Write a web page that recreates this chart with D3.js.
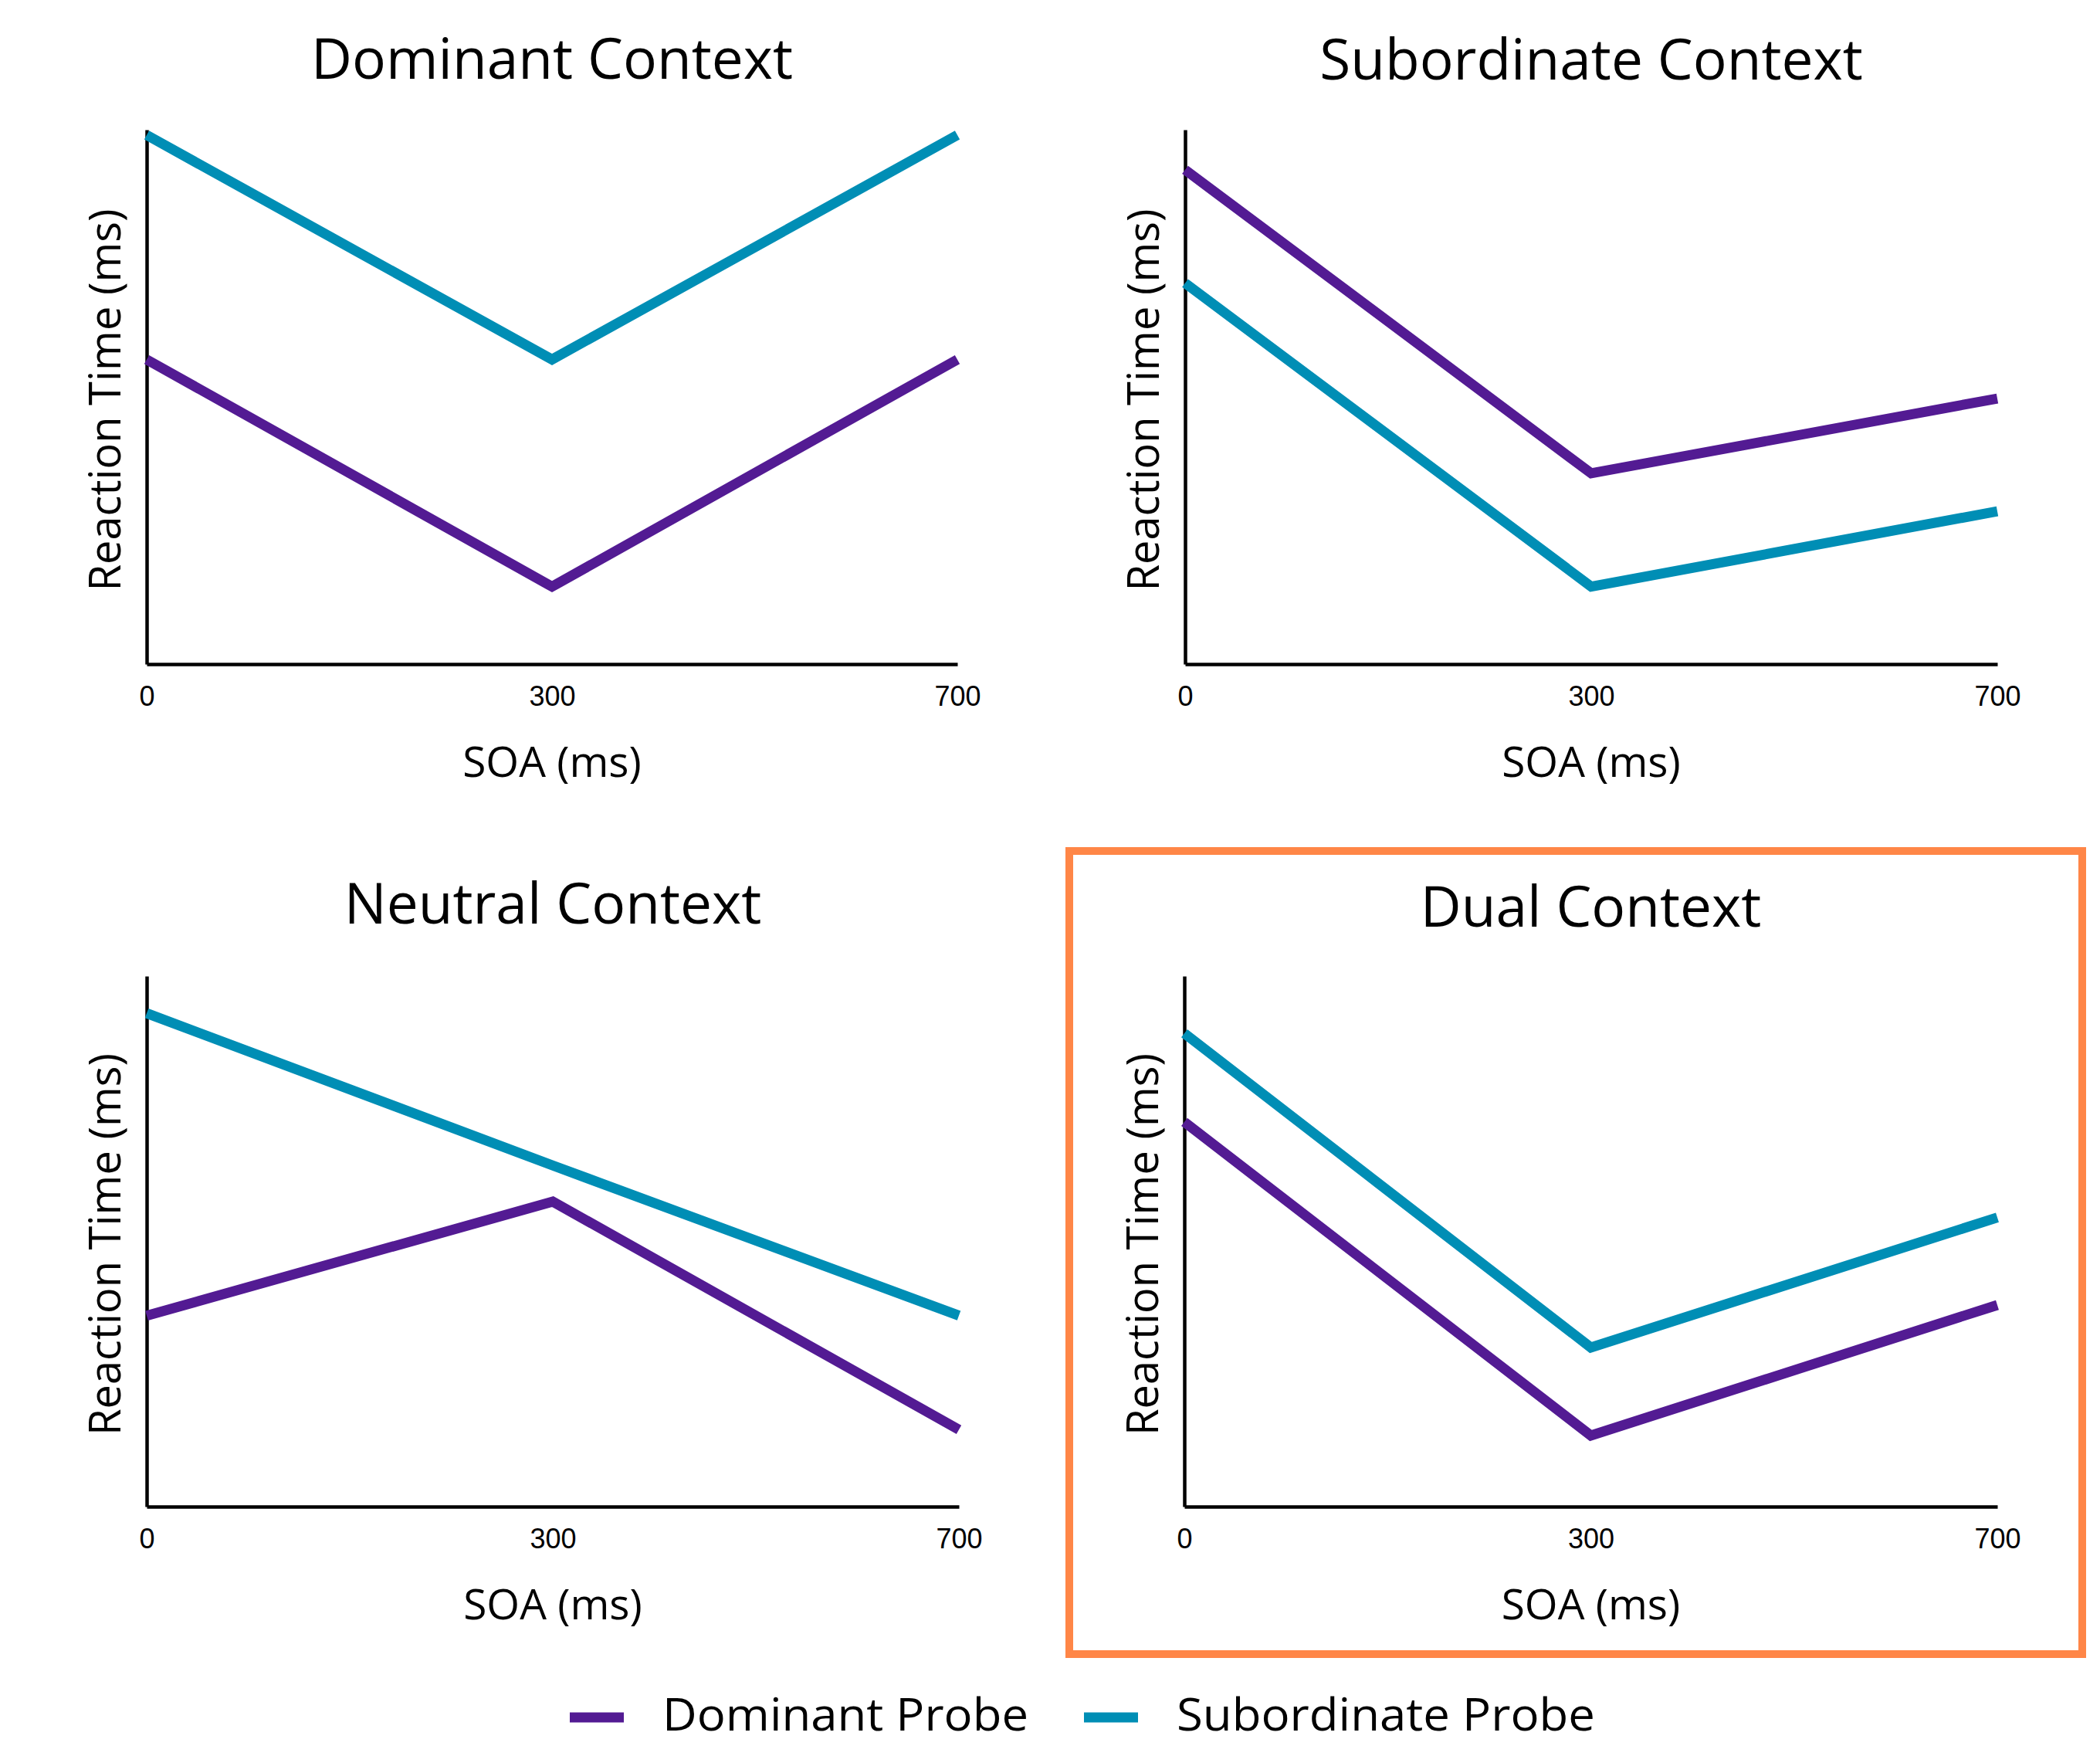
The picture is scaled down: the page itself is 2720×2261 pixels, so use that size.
<!DOCTYPE html>
<html>
<head>
<meta charset="utf-8">
<script src="https://cdn.jsdelivr.net/npm/d3@7"></script>
<style>
  html, body { margin: 0; padding: 0; background: #ffffff; }
  svg { display: block; }
</style>
</head>
<body>
<svg id="chart" width="2720" height="2261"></svg>
<script>
// ---------------- DATA ----------------
const panelTitles = ["Dominant Context", "Subordinate Context", "Neutral Context", "Dual Context"];
const soaTicks = ["0", "300", "700"];
const seriesNames = ["Dominant Probe", "Subordinate Probe"];
// Reaction time (arbitrary units, axis has no scale) at SOA 0 / 300 / 700
const dominantProbe = [
  [57, 14.5, 57],
  [92.5, 35.7, 49.7],
  [36, 57.5, 14.5],
  [72.5, 13.4, 38]
];
const subordinateProbe = [
  [99, 57, 99],
  [71.3, 14.5, 28.6],
  [93, 64.3, 36],
  [89.2, 30, 54.5]
];
const xAxisLabel = "SOA (ms)";
const yAxisLabel = "Reaction Time (ms)";
const highlightedPanel = 3;

// ---------------- LAYOUT / STYLE ----------------
const colors = ["#531B93", "#008EB5"];
const layout = [
  { left: 190, right: 1240, top: 168, bottom: 860, titleY: 102 },
  { left: 1535, right: 2587, top: 168, bottom: 860, titleY: 103 },
  { left: 190, right: 1242, top: 1264, bottom: 1951, titleY: 1196 },
  { left: 1534, right: 2587, top: 1264, bottom: 1951, titleY: 1200 }
];
const svg = d3.select("#chart");
const sans = "'Open Sans', 'Noto Sans', sans-serif";

layout.forEach((L, i) => {
  const x = d3.scalePoint().domain(soaTicks).range([L.left, L.right]);
  const y = d3.scaleLinear().domain([0, 100]).range([L.bottom, L.top]);
  const g = svg.append("g");

  // x axis
  const xa = g.append("g")
    .attr("transform", `translate(0,${L.bottom})`)
    .call(d3.axisBottom(x).tickSize(0).tickPadding(28).tickSizeOuter(0));
  xa.select(".domain").attr("stroke", "#000").attr("stroke-width", 4.5);
  xa.selectAll("text")
    .attr("font-family", "'Liberation Sans', Arial, sans-serif")
    .attr("font-size", 36)
    .attr("fill", "#000");

  // y axis (no ticks)
  const ya = g.append("g")
    .attr("transform", `translate(${L.left},0)`)
    .call(d3.axisLeft(y).tickValues([]).tickSizeOuter(0));
  ya.select(".domain").attr("stroke", "#000").attr("stroke-width", 4.5);

  // lines
  const line = d3.line().x((d, j) => x(soaTicks[j])).y(d => y(d));
  [dominantProbe[i], subordinateProbe[i]].forEach((vals, s) => {
    g.append("path")
      .datum(vals)
      .attr("d", line)
      .attr("fill", "none")
      .attr("stroke", colors[s])
      .attr("stroke-width", 13)
      .attr("stroke-linejoin", "miter")
      .attr("stroke-linecap", "butt");
  });

  const cx = (L.left + L.right) / 2;
  // title
  g.append("text")
    .attr("x", cx).attr("y", L.titleY)
    .attr("text-anchor", "middle")
    .attr("font-family", sans)
    .attr("font-size", 73)
    .attr("fill", "#000")
    .text(panelTitles[i]);

  // x label
  g.append("text")
    .attr("x", cx).attr("y", L.bottom + 146)
    .attr("text-anchor", "middle")
    .attr("font-family", sans)
    .attr("font-size", 55)
    .attr("fill", "#000")
    .text(xAxisLabel);

  // y label
  const cy = (L.top + L.bottom) / 2 + 4;
  g.append("text")
    .attr("transform", `translate(${L.left - 34},${cy}) rotate(-90)`)
    .attr("text-anchor", "middle")
    .attr("font-family", sans)
    .attr("font-size", 56)
    .attr("fill", "#000")
    .text(yAxisLabel);
});

// highlight box around Dual Context
svg.append("rect")
  .attr("x", 1385).attr("y", 1102)
  .attr("width", 2697 - 1385).attr("height", 2142 - 1102)
  .attr("fill", "none")
  .attr("stroke", "#FF8647")
  .attr("stroke-width", 10);

// legend
const legendItems = [
  { sx: 738, tx: 858, tw: 474 },
  { sx: 1404, tx: 1524, tw: 542 }
];
const legend = svg.append("g");
seriesNames.forEach((name, s) => {
  const it = legendItems[s];
  legend.append("line")
    .attr("x1", it.sx).attr("x2", it.sx + 70)
    .attr("y1", 2224).attr("y2", 2224)
    .attr("stroke", colors[s])
    .attr("stroke-width", 13);
  legend.append("text")
    .attr("x", it.tx).attr("y", 2241)
    .attr("font-family", sans)
    .attr("font-size", 58)
    .attr("textLength", it.tw)
    .attr("lengthAdjust", "spacingAndGlyphs")
    .attr("fill", "#000")
    .text(name);
});
</script>
</body>
</html>
